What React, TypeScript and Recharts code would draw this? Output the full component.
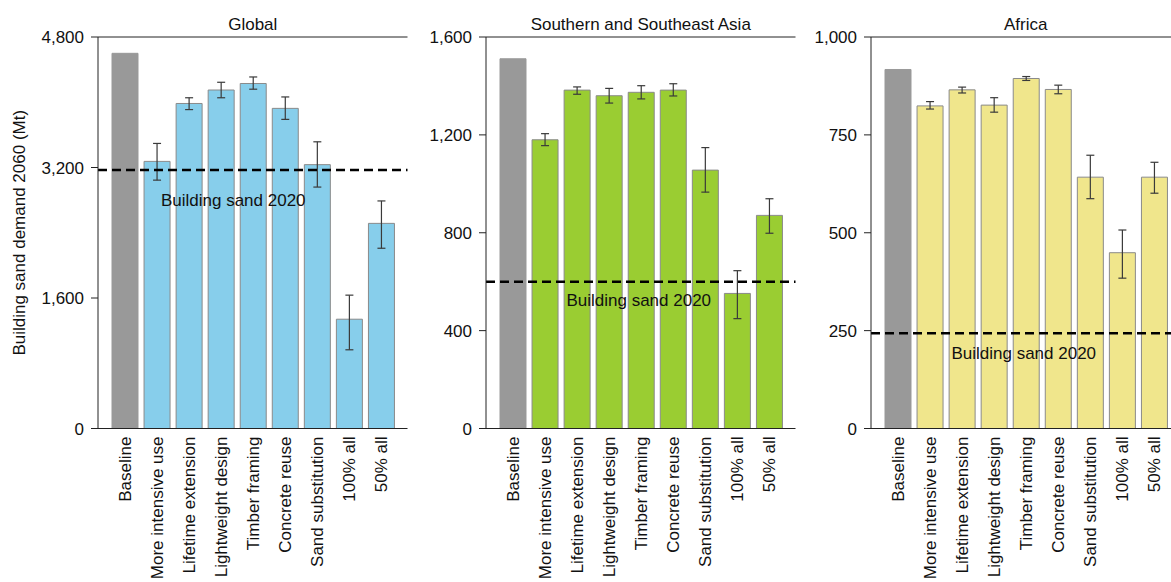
import React from 'react';
import { BarChart, Bar, XAxis, YAxis, ErrorBar, ReferenceLine, Cell } from 'recharts';

// Scenario categories shared by all three regions
const categories = [
  'Baseline',
  'More intensive use',
  'Lifetime extension',
  'Lightweight design',
  'Timber framing',
  'Concrete reuse',
  'Sand substitution',
  '100% all',
  '50% all',
];

// Global building sand demand in 2060 (Mt), with uncertainty range
const globalValues = [4600, 3275, 3985, 4150, 4230, 3925, 3235, 1340, 2515];
const globalLow = [null, 3045, 3910, 4055, 4160, 3790, 2960, 965, 2210];
const globalHigh = [null, 3495, 4055, 4245, 4310, 4065, 3515, 1635, 2790];
const globalSand2020 = 3170;
const globalTicks = [0, 1600, 3200, 4800];

// Southern and Southeast Asia
const asiaValues = [1511, 1180, 1383, 1360, 1374, 1383, 1056, 552, 871];
const asiaLow = [null, 1156, 1366, 1330, 1347, 1359, 966, 449, 798];
const asiaHigh = [null, 1205, 1396, 1390, 1401, 1409, 1148, 645, 939];
const asiaSand2020 = 600;
const asiaTicks = [0, 400, 800, 1200, 1600];

// Africa
const africaValues = [917, 824, 865, 826, 894, 866, 642, 449, 642];
const africaLow = [null, 816, 857, 808, 889, 855, 587, 384, 601];
const africaHigh = [null, 835, 872, 845, 899, 877, 698, 507, 680];
const africaSand2020 = 243;
const africaTicks = [0, 250, 500, 750, 1000];

const FONT = '"Liberation Sans", Arial, Helvetica, sans-serif';
const TEXT = '#111';
const AXIS = '#222';
const BASELINE_FILL = '#999999';
const PLOT_TOP = 37;
const CHART_H = 582;
const X_AXIS_H = 153.5;
const PLOT_W = 309.5;

type PanelProps = {
  title: string;
  values: number[];
  low: (number | null)[];
  high: (number | null)[];
  sand: number;
  ticks: number[];
  color: string;
  left: number;
  axisWidth: number;
  noteDx: number;
  noteDy: number;
  yTitle?: string;
};

const CategoryTick = (props: any) => {
  const { x, y, payload } = props;
  return (
    <g transform={`translate(${x},${y})`}>
      <text
        transform="rotate(-90)"
        x={-8}
        y={0}
        dy="0.35em"
        textAnchor="end"
        fontSize={17}
        fill={TEXT}
        fontFamily={FONT}
      >
        {payload.value}
      </text>
    </g>
  );
};

const fmt = (v: number) => v.toLocaleString('en-US');

function Panel(p: PanelProps) {
  const data = categories.map((name, i) => ({
    name,
    value: p.values[i],
    err:
      p.low[i] == null || p.high[i] == null
        ? null
        : [p.values[i] - (p.low[i] as number), (p.high[i] as number) - p.values[i]],
  }));
  const max = p.ticks[p.ticks.length - 1];

  return (
    <div style={{ position: 'absolute', left: p.left, top: 0 }}>
      <BarChart
        width={p.axisWidth + PLOT_W}
        height={CHART_H}
        data={data}
        margin={{ top: PLOT_TOP, right: 0, bottom: 0, left: 0 }}
      >
        <XAxis
          dataKey="name"
          height={X_AXIS_H}
          interval={0}
          tickLine={false}
          tickSize={0}
          tickMargin={0}
          axisLine={{ stroke: AXIS, strokeWidth: 1 }}
          padding={{ left: 11, right: 10 }}
          tick={<CategoryTick />}
        />
        <YAxis
          width={p.axisWidth}
          domain={[0, max]}
          ticks={p.ticks}
          interval={0}
          tickFormatter={fmt}
          tickSize={7}
          tickMargin={7}
          tickLine={{ stroke: AXIS }}
          axisLine={{ stroke: AXIS, strokeWidth: 1 }}
          tick={{ fontSize: 17, fill: TEXT, fontFamily: FONT }}
          label={
            p.yTitle
              ? (lp: any) => {
                  const vb = lp.viewBox || {};
                  const cx = 25;
                  const cy = vb.y + vb.height / 2;
                  return (
                    <text
                      x={cx}
                      y={cy}
                      transform={`rotate(-90, ${cx}, ${cy})`}
                      textAnchor="middle"
                      fontSize={17}
                      fill={TEXT}
                      fontFamily={FONT}
                    >
                      {p.yTitle}
                    </text>
                  );
                }
              : undefined
          }
        />
        <YAxis
          yAxisId="frame"
          orientation="right"
          width={0}
          domain={[0, max]}
          tick={false}
          tickLine={false}
          axisLine={{ stroke: AXIS, strokeWidth: 1 }}
        />
        <Bar dataKey="value" barSize={26} isAnimationActive={false}>
          {data.map((d, i) => (
            <Cell
              key={d.name}
              fill={i === 0 ? BASELINE_FILL : p.color}
              stroke={i === 0 ? BASELINE_FILL : '#8a8a8a'}
              strokeWidth={1}
            />
          ))}
          <ErrorBar dataKey="err" width={4} stroke="#3a3a3a" strokeWidth={1.2} isAnimationActive={false} />
        </Bar>
        {/* top frame line, carrying the panel title */}
        <ReferenceLine
          y={max}
          stroke={AXIS}
          strokeWidth={1}
          label={(lp: any) => {
            const vb = lp.viewBox || {};
            return (
              <text
                x={vb.x + vb.width / 2}
                y={vb.y - 7.5}
                textAnchor="middle"
                fontSize={17}
                fill={TEXT}
                fontFamily={FONT}
              >
                {p.title}
              </text>
            );
          }}
        />
        <ReferenceLine
          y={p.sand}
          stroke="#000"
          strokeWidth={2.5}
          strokeDasharray="9 5"
          label={(lp: any) => {
            const vb = lp.viewBox || {};
            return (
              <text
                x={vb.x + vb.width / 2 + p.noteDx}
                y={vb.y + p.noteDy}
                dy="0.35em"
                textAnchor="middle"
                fontSize={17}
                fill={TEXT}
                fontFamily={FONT}
              >
                Building sand 2020
              </text>
            );
          }}
        />
      </BarChart>
    </div>
  );
}

export default function App() {
  return (
    <div
      style={{
        position: 'fixed',
        left: 0,
        top: 0,
        width: 1171,
        height: 582,
        overflow: 'hidden',
        background: '#fff',
        fontFamily: FONT,
      }}
    >
      <Panel
        title="Global"
        values={globalValues}
        low={globalLow}
        high={globalHigh}
        sand={globalSand2020}
        ticks={globalTicks}
        color="#87CEEB"
        left={0}
        axisWidth={98}
        noteDx={-19.5}
        noteDy={30}
        yTitle="Building sand demand 2060 (Mt)"
      />
      <Panel
        title="Southern and Southeast Asia"
        values={asiaValues}
        low={asiaLow}
        high={asiaHigh}
        sand={asiaSand2020}
        ticks={asiaTicks}
        color="#9ACD32"
        left={426}
        axisWidth={60}
        noteDx={-2}
        noteDy={18}
      />
      <Panel
        title="Africa"
        values={africaValues}
        low={africaLow}
        high={africaHigh}
        sand={africaSand2020}
        ticks={africaTicks}
        color="#F0E68C"
        left={811}
        axisWidth={60}
        noteDx={-2}
        noteDy={19.5}
      />
    </div>
  );
}
